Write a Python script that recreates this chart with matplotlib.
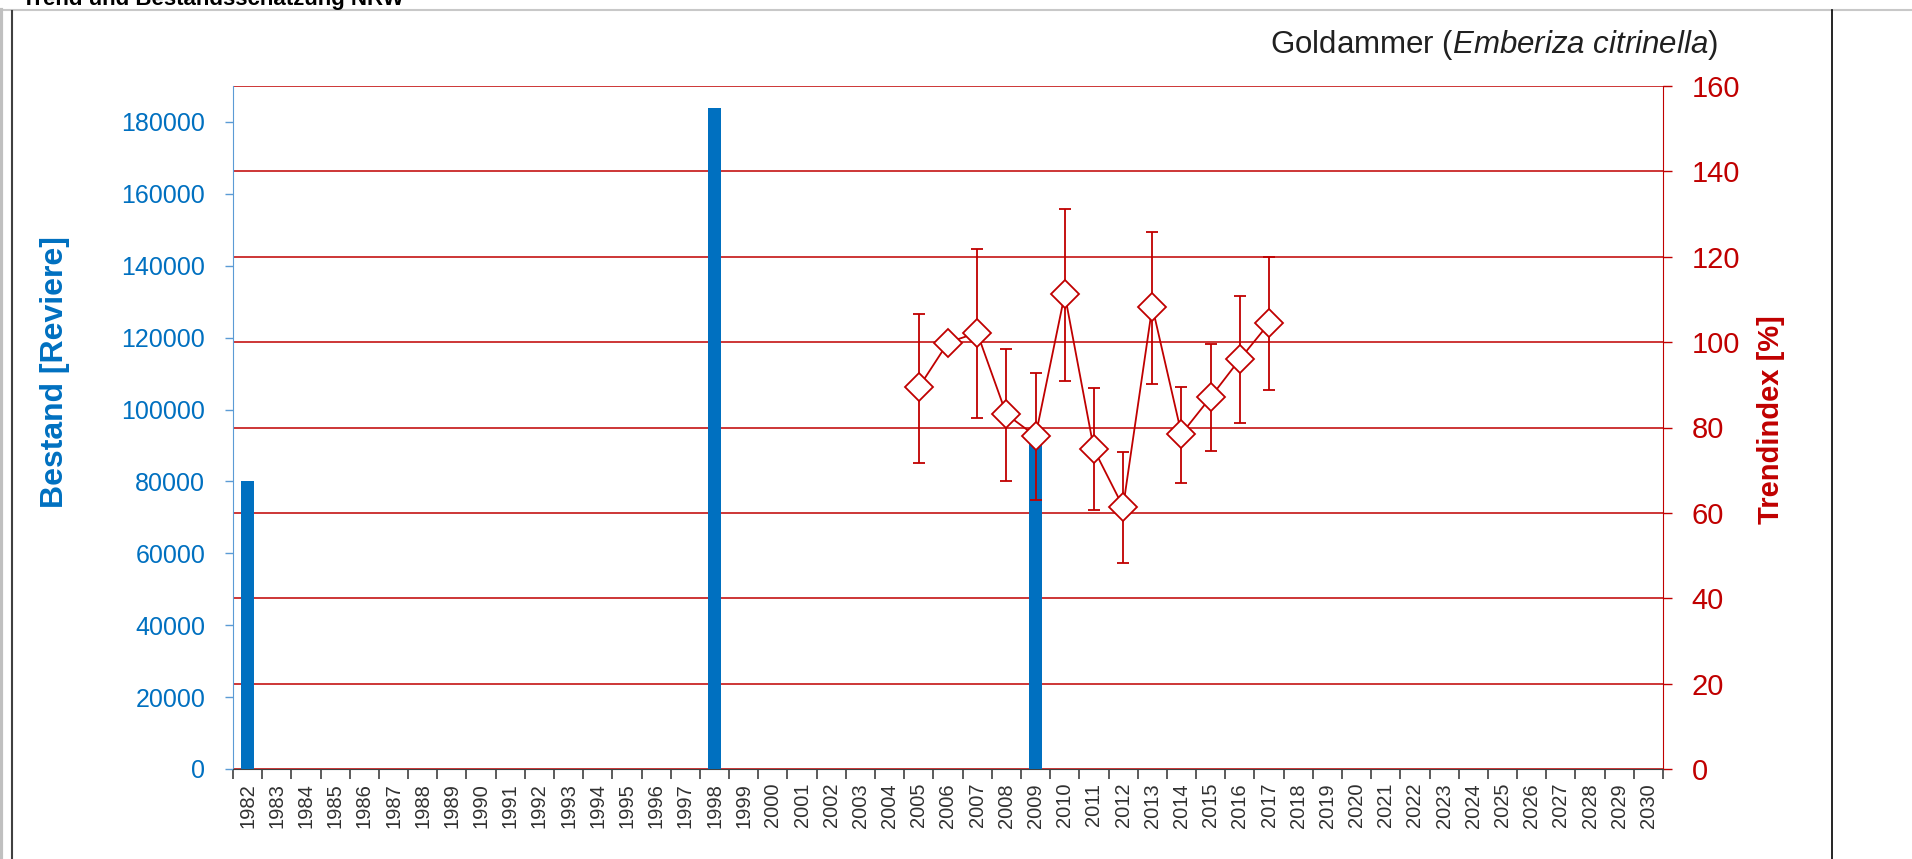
import numpy as np
import matplotlib
matplotlib.use("Agg")
import matplotlib.pyplot as plt
from matplotlib.lines import Line2D

plt.rcParams['font.family'] = ['Liberation Sans', 'DejaVu Sans']
plt.rcParams['mathtext.fontset'] = 'custom'
plt.rcParams['mathtext.rm'] = 'Liberation Sans'
plt.rcParams['mathtext.it'] = 'Liberation Sans:italic'

# x categories
years = list(range(1982, 2031))

# Bestand (left axis, bars)
bestand_years = [1982, 1998, 2009]
bestand = [80000, 184000, 92000]

# Trendindex (right axis) with confidence range
trend_years = list(range(2005, 2018))
trend = [89.4, 99.9, 102.2, 83.1, 78.0, 111.2, 74.9, 61.4, 108.3, 78.5, 87.1, 96.0, 104.4]
trend_hi = [106.7, np.nan, 121.8, 98.4, 92.7, 131.2, 89.3, 74.3, 125.8, 89.6, 99.6, 110.8, 120.0]
trend_lo = [71.8, np.nan, 82.3, 67.5, 63.0, 90.9, 60.6, 48.3, 90.2, 67.1, 74.6, 81.1, 88.8]

blue = '#0070C0'
red = '#C00000'

fig = plt.figure(figsize=(19.12, 8.59), dpi=100)
ax = fig.add_axes([233/1912, 1-769/859, (1663-233)/1912, (769-86)/859])
ax2 = ax.twinx()   # right ticks + red grid
ax3 = ax.twinx()   # trend line on top of bars
ax.set_zorder(ax2.get_zorder() + 1)
ax.patch.set_visible(False)
ax3.set_zorder(ax.get_zorder() + 1)
ax3.patch.set_visible(False)

xpos = {y: i for i, y in enumerate(years)}

# bars
ax.bar([xpos[y] for y in bestand_years], bestand, width=0.42, color=blue, zorder=3)
ax.set_xlim(-0.5, len(years) - 0.5)
ax.set_ylim(0, 190000)
ax.set_yticks(np.arange(0, 180001, 20000))
ax.tick_params(axis='y', colors='#5B9BD5', labelcolor=blue, labelsize=18, length=6, width=1, pad=14)
ax.spines['left'].set_color('#5B9BD5')
ax.spines['bottom'].set_color('#404040')
ax.spines['top'].set_visible(False)
ax.spines['right'].set_visible(False)

ax.set_xticks(range(len(years)))
ax.set_xticklabels([str(y) for y in years], rotation=90, fontsize=14.5, color='#303030')
ax.tick_params(axis='x', which='major', length=0, pad=10)
ax.set_xticks(np.arange(-0.5, len(years), 1), minor=True)
ax.tick_params(axis='x', which='minor', length=7, width=1.2, color='#404040')

# right axis + grid
ax2.set_ylim(0, 160)
ax2.set_yticks(np.arange(0, 161, 20))
ax2.tick_params(axis='y', colors=red, labelsize=21, length=6.5, width=1, pad=14)
ax2.grid(axis='y', color=red, linewidth=1.1)
for s in ['left', 'top', 'bottom']:
    ax2.spines[s].set_visible(False)
ax2.spines['right'].set_color(red)

# trend line
tx = np.array([xpos[y] for y in trend_years])
tv = np.array(trend)
hi = np.array(trend_hi)
lo = np.array(trend_lo)
m = ~np.isnan(hi)
ax3.set_ylim(0, 160)
ax3.errorbar(tx[m], tv[m], yerr=[tv[m] - lo[m], hi[m] - tv[m]], fmt='none',
             ecolor=red, elinewidth=1.3, capsize=4, capthick=1.3)
ax3.plot(tx, tv, color=red, lw=1.3, marker='D', markersize=14,
         markerfacecolor='white', markeredgecolor=red, markeredgewidth=1.3)
ax3.set_yticks([])
for s in ax3.spines.values():
    s.set_visible(False)

# labels and title
fig.text(55/1912, 1-372/859, 'Bestand [Reviere]', rotation=90, ha='center', va='center',
         fontsize=23, fontweight='bold', color=blue)
fig.text(1771/1912, 1-420/859, 'Trendindex [%]', rotation=90, ha='center', va='center',
         fontsize=21, fontweight='bold', color=red)
fig.text(1718/1912, 1-45/859, r'Goldammer ($\mathit{Emberiza\ citrinella}$)',
         ha='right', va='center', fontsize=22.5, color='#202020')

# header text cut off at top of page
fig.text(22/1912, 1-5/859, 'Trend und Bestandsschätzung NRW', ha='left', va='baseline',
         fontsize=16, fontweight='bold', color='black')

# page frame lines
fig.add_artist(Line2D([0, 1], [1-10/859, 1-10/859], color='#c8c8c8', lw=1.5))
fig.add_artist(Line2D([1/1912, 1/1912], [0, 1-10/859], color='#c0c0c0', lw=3))
fig.add_artist(Line2D([11.5/1912, 11.5/1912], [0, 1-11/859], color='#404040', lw=1.5))
fig.add_artist(Line2D([1832/1912, 1832/1912], [0, 1-10/859], color='black', lw=1.2))

fig.savefig('out.png', dpi=100)
